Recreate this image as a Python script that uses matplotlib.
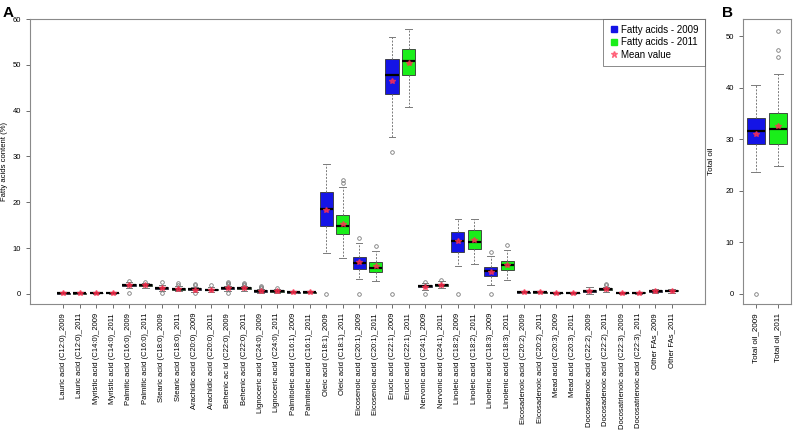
import matplotlib
matplotlib.use("Agg")
import matplotlib.pyplot as plt
from matplotlib.lines import Line2D

plt.rcParams["font.family"] = ["Liberation Sans", "DejaVu Sans"]

# panel A: fatty acids, one box per acid and year
fa_labels = [
    "Lauric acid (C12:0)_2009", "Lauric acid (C12:0)_2011",
    "Myristic acid (C14:0)_2009", "Myristic acid (C14:0)_2011",
    "Palmitic acid (C16:0)_2009", "Palmitic acid (C16:0)_2011",
    "Stearic acid (C18:0)_2009", "Stearic acid (C18:0)_2011",
    "Arachidic acid (C20:0)_2009", "Arachidic acid (C20:0)_2011",
    "Behenic ac id (C22:0)_2009", "Behenic acid (C22:0)_2011",
    "Lignoceric acid (C24:0)_2009", "Lignoceric acid (C24:0)_2011",
    "Palmitoleic acid (C16:1)_2009", "Palmitoleic acid (C16:1)_2011",
    "Oleic acid (C18:1)_2009", "Oleic acid (C18:1)_2011",
    "Eicosenoic acid (C20:1)_2009", "Eicosenoic acid (C20:1)_2011",
    "Erucic acid (C22:1)_2009", "Erucic acid (C22:1)_2011",
    "Nervonic acid (C24:1)_2009", "Nervonic acid (C24:1)_2011",
    "Linoleic acid (C18:2)_2009", "Linoleic acid (C18:2)_2011",
    "Linolenic acid (C18:3)_2009", "Linolenic acid (C18:3)_2011",
    "Eicosadenoic acid (C20:2)_2009", "Eicosadenoic acid (C20:2)_2011",
    "Mead acid (C20:3)_2009", "Mead acid (C20:3)_2011",
    "Docosadenoic acid (C22:2)_2009", "Docosadenoic acid (C22:2)_2011",
    "Docosatrienoic acid (C22:3)_2009", "Docosatrienoic acid (C22:3)_2011",
    "Other FAs_2009", "Other FAs_2011",
]
fa_lo = [0.0, 0.0, 0.05, 0.05, 1.2, 1.3, 0.6, 0.6, 0.5, 0.5, 0.6, 0.7, 0.2, 0.3, 0.1, 0.15,
         9.0, 7.9, 3.3, 2.8, 34.3, 40.7, 0.9, 1.2, 6.0, 6.6, 2.0, 3.0, 0.1, 0.1, 0.0, 0.0,
         0.0, 0.4, 0.0, 0.05, 0.1, 0.3]
fa_q1 = [0.05, 0.05, 0.12, 0.12, 1.7, 1.7, 1.0, 0.9, 0.8, 0.75, 1.0, 1.1, 0.45, 0.5, 0.25, 0.3,
         14.8, 13.0, 5.5, 4.8, 43.7, 47.8, 1.4, 1.7, 9.2, 9.8, 4.0, 5.3, 0.25, 0.25, 0.1, 0.1,
         0.4, 0.8, 0.15, 0.2, 0.45, 0.55]
fa_med = [0.1, 0.1, 0.18, 0.18, 1.9, 1.9, 1.3, 1.1, 1.0, 0.9, 1.2, 1.3, 0.6, 0.65, 0.35, 0.4,
          18.5, 14.8, 6.8, 5.7, 47.8, 50.9, 1.65, 1.95, 11.6, 11.4, 5.1, 6.3, 0.35, 0.35, 0.15, 0.15,
          0.65, 1.0, 0.2, 0.25, 0.6, 0.7]
fa_q3 = [0.15, 0.15, 0.22, 0.22, 2.1, 2.1, 1.5, 1.3, 1.2, 1.05, 1.4, 1.5, 0.75, 0.8, 0.45, 0.5,
         22.2, 17.3, 8.1, 7.0, 51.3, 53.4, 1.9, 2.2, 13.6, 13.9, 5.9, 7.1, 0.45, 0.45, 0.2, 0.2,
         0.95, 1.2, 0.3, 0.35, 0.75, 0.85]
fa_hi = [0.2, 0.2, 0.3, 0.3, 2.5, 2.4, 2.0, 1.7, 1.5, 1.4, 1.8, 1.8, 1.0, 1.0, 0.6, 0.6,
         28.3, 23.3, 11.2, 9.4, 56.0, 57.8, 2.4, 2.8, 16.4, 16.4, 8.3, 9.5, 0.6, 0.6, 0.3, 0.3,
         1.6, 1.6, 0.4, 0.45, 1.1, 1.1]
fa_mean = [0.1, 0.1, 0.18, 0.18, 1.9, 1.85, 1.25, 1.1, 0.95, 0.85, 1.2, 1.25, 0.6, 0.65, 0.35, 0.4,
           18.4, 15.3, 7.0, 6.0, 46.5, 50.4, 1.6, 1.95, 11.5, 11.8, 4.8, 6.4, 0.35, 0.35, 0.15, 0.15,
           0.65, 1.0, 0.2, 0.25, 0.55, 0.7]
fa_out = [[], [], [], [], [2.9, 0.3], [2.7], [2.5, 0.2], [2.0, 2.3], [1.9, 2.2, 0.3], [1.9],
          [2.1, 2.4, 2.6, 0.3], [2.0, 2.2, 2.4], [1.3, 1.5, 1.7], [1.3], [], [],
          [0.0], [24.2, 24.9], [12.1, 0.0], [10.5], [31.0, 0.0], [], [2.7, 0.0], [3.1],
          [0.0], [], [9.2, 0.0], [10.6], [], [], [], [], [], [1.9, 2.1], [], [], [], []]

# panel B: total oil
oil_labels = ["Total oil_2009", "Total oil_2011"]
oil_lo = [23.6, 24.8]
oil_q1 = [29.0, 29.0]
oil_med = [31.5, 32.0]
oil_q3 = [34.0, 35.0]
oil_hi = [40.5, 42.6]
oil_mean = [31.0, 32.6]
oil_out = [[0.0], [46.0, 47.3, 51.0]]

BLUE = "#1414e6"
GREEN = "#1aee1a"
GREY = "#7a7a7a"
MEAN_RED = "#ff3050"


def draw_boxes(ax, labels, lo, q1, med, q3, hi, mean, out):
    stats = []
    for i in range(len(labels)):
        stats.append(dict(whislo=lo[i], q1=q1[i], med=med[i], q3=q3[i],
                          whishi=hi[i], fliers=out[i], mean=mean[i]))
    pos = list(range(1, len(labels) + 1))
    bp = ax.bxp(stats, positions=pos, widths=0.8, patch_artist=True,
                showmeans=True, showfliers=True,
                boxprops=dict(edgecolor="#333333", linewidth=0.6),
                medianprops=dict(color="black", linewidth=1.6),
                whiskerprops=dict(color=GREY, linestyle=(0, (2, 1.5)), linewidth=0.7),
                capprops=dict(color=GREY, linewidth=0.7),
                flierprops=dict(marker="o", markersize=2.6, markerfacecolor="none",
                                markeredgecolor=GREY, markeredgewidth=0.6),
                meanprops=dict(marker="*", markersize=4, markerfacecolor=MEAN_RED,
                               markeredgecolor=MEAN_RED, alpha=0.75))
    for i, box in enumerate(bp["boxes"]):
        box.set_facecolor(BLUE if i % 2 == 0 else GREEN)
    ax.set_xticks(pos)
    ax.set_xticklabels(labels, rotation=90, fontsize=5.2)
    for s in ax.spines.values():
        s.set_color("#8a8a8a")
        s.set_linewidth(0.8)
    ax.tick_params(colors="#555555", length=3, width=0.6, labelsize=5.5)
    ax.tick_params(axis="x", labelcolor="black")
    ax.tick_params(axis="y", labelcolor="black")


fig = plt.figure(figsize=(7.93, 4.33), dpi=100)

ax_a = fig.add_axes([0.0378, 0.298, 0.851, 0.658])
draw_boxes(ax_a, fa_labels, fa_lo, fa_q1, fa_med, fa_q3, fa_hi, fa_mean, fa_out)
ax_a.set_xlim(-1.02, 40.02)
ax_a.set_ylim(-2.2, 60)
ax_a.set_yticks([0, 10, 20, 30, 40, 50, 60])
ax_a.set_ylabel("Fatty acids content (%)", fontsize=5.5, labelpad=3)

handles = [
    Line2D([], [], marker="s", linestyle="none", color=BLUE, markersize=4),
    Line2D([], [], marker="s", linestyle="none", color=GREEN, markersize=4),
    Line2D([], [], marker="*", linestyle="none", color=MEAN_RED, markersize=5, alpha=0.6),
]
leg = ax_a.legend(handles, ["Fatty acids - 2009", "Fatty acids - 2011", "Mean value"],
                  loc="upper right", fontsize=7, frameon=True, fancybox=False,
                  borderaxespad=0, handletextpad=0.3, handlelength=1.0,
                  labelspacing=0.25, borderpad=0.6)
leg.get_frame().set_edgecolor("#555555")
leg.get_frame().set_linewidth(0.6)

ax_b = fig.add_axes([0.937, 0.298, 0.06, 0.658])
draw_boxes(ax_b, oil_labels, oil_lo, oil_q1, oil_med, oil_q3, oil_hi, oil_mean, oil_out)
ax_b.set_xlim(0.44, 2.56)
ax_b.set_ylim(-2.0, 53.3)
ax_b.set_yticks([0, 10, 20, 30, 40, 50])
ax_b.tick_params(axis="x", labelsize=5.8)
ax_b.set_ylabel("Total oil", fontsize=5.8, labelpad=8)

fig.text(0.003, 0.985, "A", fontsize=11, fontweight="bold", va="top")
fig.text(0.91, 0.985, "B", fontsize=11, fontweight="bold", va="top")

fig.savefig("out.png", dpi=100)
plt.close()
